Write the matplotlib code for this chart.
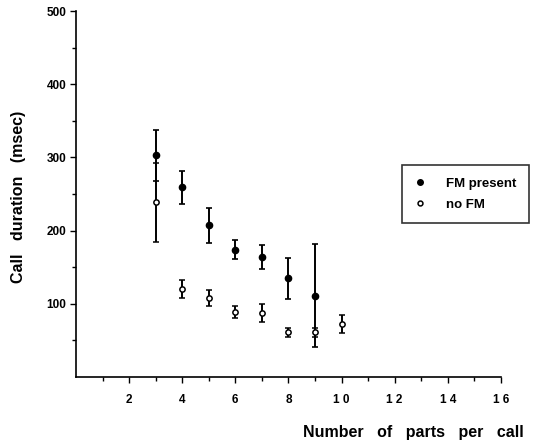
import numpy as np
import matplotlib
matplotlib.use('Agg')
import matplotlib.pyplot as plt
from matplotlib.lines import Line2D

plt.rcParams['font.family'] = ['Liberation Sans', 'DejaVu Sans']

# FM present
fm_x = [3, 4, 5, 6, 7, 8, 9]
fm_y = [303, 259, 207, 174, 164, 135, 111]
fm_err = [35, 23, 24, 13, 16, 28, 70]

# no FM
nofm_x = [3, 4, 5, 6, 7, 8, 9, 10]
nofm_y = [239, 120, 108, 89, 87, 61, 61, 72]
nofm_err = [54, 12, 11, 8, 12, 6, 6, 12]

xticks = [2, 4, 6, 8, 10, 12, 14, 16]
xtick_labels = ['2', '4', '6', '8', '1 0', '1 2', '1 4', '1 6']
yticks = [100, 200, 300, 400, 500]

fig = plt.figure(figsize=(5.33, 4.45), dpi=100)
ax = fig.add_axes([0.1426, 0.153, 0.797, 0.822])

ax.errorbar(fm_x, fm_y, yerr=fm_err, fmt='o', color='black', ms=4.5,
            elinewidth=1.4, capsize=2.2, capthick=1.2)
ax.errorbar(nofm_x, nofm_y, yerr=nofm_err, fmt='o', color='black', mfc='white',
            mec='black', mew=1.1, ms=3.8, elinewidth=1.4, capsize=2.2, capthick=1.2)

ax.set_xlim(0, 16)
ax.set_ylim(0, 500)
ax.set_xticks(xticks)
ax.set_xticklabels(xtick_labels, fontsize=8.5, fontweight='bold')
ax.set_xticks(range(1, 16, 2), minor=True)
ax.set_yticks(yticks)
ax.set_yticklabels([str(v) for v in yticks], fontsize=8.5, fontweight='bold')
ax.set_yticks(range(50, 500, 100), minor=True)
ax.tick_params(which='major', length=4, width=1, pad=8)
ax.tick_params(which='minor', length=3, width=1)
ax.tick_params(axis='y', pad=3)

ax.spines['top'].set_visible(False)
ax.spines['right'].set_visible(False)
for s in ('left', 'bottom'):
    ax.spines[s].set_linewidth(1.2)

fig.text(0.983, 0.027, 'Number   of   parts   per   call', ha='right', va='center',
         fontsize=11.5, fontweight='bold')
fig.text(0.034, 0.557, 'Call   duration   (msec)', ha='center', va='center',
         rotation=90, fontsize=11.5, fontweight='bold')

handles = [
    Line2D([], [], ls='none', marker='o', color='black', ms=4),
    Line2D([], [], ls='none', marker='o', color='black', mfc='white', mew=1.1, ms=3.5),
]
leg = ax.legend(handles, ['FM present', 'no FM'], loc='upper left',
                bbox_to_anchor=(402 / 533, 1 - 165 / 445),
                bbox_transform=fig.transFigure, frameon=True, fancybox=False,
                edgecolor='black', fontsize=9.5, handlelength=0.8, handletextpad=1.6,
                borderpad=0.95, labelspacing=0.65, borderaxespad=0)
leg.get_frame().set_linewidth(1.2)
for t in leg.get_texts():
    t.set_fontweight('bold')

fig.savefig('out.png', dpi=100)
